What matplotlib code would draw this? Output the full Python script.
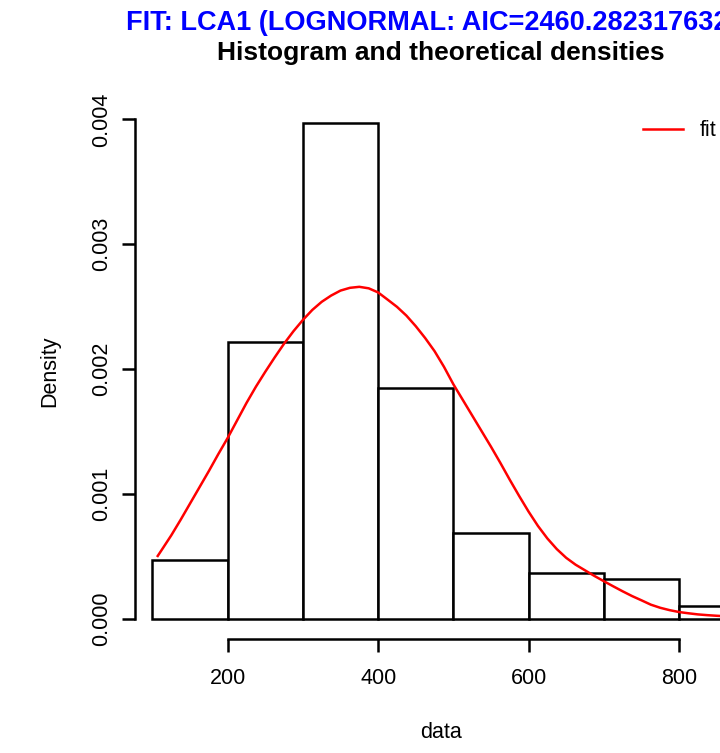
#!/usr/bin/env python3
import numpy as np
import matplotlib
matplotlib.use('Agg')
import matplotlib.pyplot as plt

plt.rcParams['font.family'] = ['Liberation Sans', 'DejaVu Sans']

## histogram (density)
bin_left    = [100, 200, 300, 400, 500, 600, 700, 800]
bin_width   = 100
bin_density = [0.000476, 0.00222, 0.00397, 0.00185, 0.000688, 0.00037, 0.000317, 0.000106]

## fitted curve, points
fit_x = [107, 112.5, 125, 137.5, 150, 162.5, 175, 187.5, 200, 212.5, 225, 237.5,
         250, 262.5, 275, 287.5, 300, 312.5, 325, 337.5, 350, 362.5, 375, 387.5,
         400, 412.5, 425, 437.5, 450, 462.5, 475, 487.5, 500, 512.5, 525, 537.5,
         550, 562.5, 575, 587.5, 600, 612.5, 625, 637.5, 650, 662.5, 675, 687.5,
         700, 712.5, 725, 737.5, 750, 762.5, 775, 787.5, 800, 812.5, 825, 837.5,
         850, 862.5, 875]
fit_y = [0.000505, 0.000555, 0.00067, 0.000795, 0.000925, 0.001055, 0.001185, 0.00132,
         0.00145, 0.00159, 0.00173, 0.00186, 0.00198, 0.002095, 0.002205, 0.002305,
         0.002395, 0.002475, 0.00254, 0.00259, 0.00263, 0.002652, 0.00266, 0.002648,
         0.002615, 0.002558, 0.00250, 0.00243, 0.002345, 0.00225, 0.002145, 0.00202,
         0.00188, 0.001755, 0.00163, 0.001505, 0.00138, 0.00125, 0.001115, 0.000985,
         0.00086, 0.000745, 0.000645, 0.00056, 0.00049, 0.000435, 0.00039, 0.000345,
         0.000303, 0.000262, 0.000222, 0.000184, 0.00015, 0.000115, 0.00009, 0.000071,
         0.000056, 0.000046, 0.000037, 0.000031, 0.000026, 0.000022, 0.000019]

x_ticks = [200, 400, 600, 800]
y_ticks = [0.000, 0.001, 0.002, 0.003, 0.004]
y_ticklabels = ['0.000', '0.001', '0.002', '0.003', '0.004']

title_fit  = 'FIT: LCA1 (LOGNORMAL: AIC=2460.28231763245)'
title_main = 'Histogram and theoretical densities'

W, H = 720, 753
fig = plt.figure(figsize=(W/100, H/100), dpi=100)
## plot region runs past the right edge of the picture (cropped like the reference)
ax = fig.add_axes([135/W, (H-639)/H, 610/W, (639-104)/H])
ax.set_xlim(76.8, 887.7)
ax.set_ylim(-0.00016, 0.004124)

ax.bar(bin_left, bin_density, width=bin_width, align='edge',
       facecolor='white', edgecolor='black', linewidth=1.8)
ax.plot(fit_x, fit_y, color='#FF0000', linewidth=1.8, label='fit')

## R-like axes
for s in ['top', 'right']:
    ax.spines[s].set_visible(False)
ax.spines['left'].set_bounds(0, 0.004)
ax.spines['bottom'].set_bounds(200, 800)
ax.spines['left'].set_linewidth(1.8)
ax.spines['bottom'].set_linewidth(1.8)
ax.set_xticks(x_ticks)
ax.set_yticks(y_ticks)
ax.set_yticklabels(y_ticklabels, rotation=90, va='center')
ax.tick_params(direction='out', length=9.6, width=1.8, labelsize=15.5)
ax.tick_params(axis='x', pad=11.5)
ax.tick_params(axis='y', pad=7)

fig.text(50/W, 1-371/H, 'Density', rotation=90, ha='center', va='center', fontsize=15.5)
fig.text(441/W, 1-733/H, 'data', ha='center', va='center', fontsize=15.5)

fig.text(126/W, 1-29.6/H, title_fit, ha='left', va='baseline',
         fontsize=19.5, fontweight='bold', color='#0000FF')
fig.text(441/W, 1-60/H, title_main, ha='center', va='baseline',
         fontsize=19, fontweight='bold', color='black')

ax.legend(loc='center left', bbox_to_anchor=(643/W, 1-131/H), bbox_transform=fig.transFigure,
          frameon=False, fontsize=15.5, handlelength=1.86, handletextpad=0.79,
          borderpad=0, borderaxespad=0)

fig.savefig('out.png', dpi=100)
